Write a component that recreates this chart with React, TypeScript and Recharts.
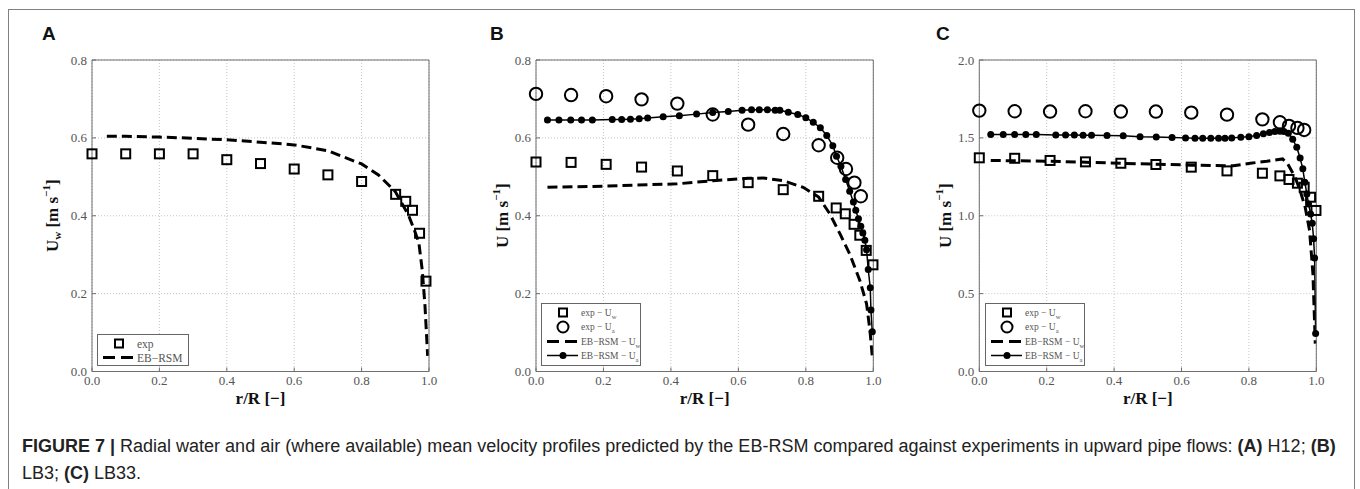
import React from 'react';
import { ComposedChart, Line, Scatter, XAxis, YAxis, CartesianGrid, Legend, Label } from 'recharts';

const R_TICKS = [0, 0.2, 0.4, 0.6, 0.8, 1.0];
const AB_U_TICKS = [0, 0.2, 0.4, 0.6, 0.8];
const C_U_TICKS = [0, 0.5, 1.0, 1.5, 2.0];

// (A) H12
const A_EXP_R = [0, 0.1, 0.2, 0.3, 0.4, 0.5, 0.6, 0.7, 0.8, 0.901, 0.931, 0.951, 0.972, 0.991];
const A_EXP_UW = [0.559, 0.559, 0.559, 0.559, 0.544, 0.534, 0.52, 0.505, 0.488, 0.455, 0.437, 0.414, 0.355, 0.232];
const A_RSM_R = [0.044, 0.1, 0.2, 0.3, 0.4, 0.5, 0.6, 0.7, 0.8, 0.85, 0.9, 0.94, 0.96, 0.97, 0.98, 0.988, 0.996];
const A_RSM_UW = [0.604, 0.604, 0.602, 0.599, 0.595, 0.589, 0.582, 0.567, 0.533, 0.505, 0.462, 0.4, 0.355, 0.33, 0.26, 0.17, 0.04];

// (B) LB3
const B_EXP_R = [0, 0.104, 0.208, 0.313, 0.419, 0.524, 0.629, 0.733, 0.838, 0.89, 0.917, 0.943, 0.96, 0.979, 0.999];
const B_EXP_UW = [0.538, 0.537, 0.532, 0.525, 0.515, 0.503, 0.485, 0.467, 0.45, 0.42, 0.405, 0.378, 0.35, 0.311, 0.274];
const B_EXP_UA_R = [0, 0.104, 0.208, 0.313, 0.419, 0.524, 0.629, 0.733, 0.838, 0.893, 0.919, 0.944, 0.963];
const B_EXP_UA = [0.713, 0.71, 0.707, 0.699, 0.688, 0.66, 0.634, 0.61, 0.581, 0.549, 0.52, 0.485, 0.45];
const B_RSM_UW_R = [0.034, 0.2, 0.419, 0.524, 0.629, 0.674, 0.733, 0.792, 0.838, 0.871, 0.901, 0.93, 0.96, 0.98, 0.99, 0.998];
const B_RSM_UW = [0.473, 0.476, 0.482, 0.49, 0.496, 0.497, 0.49, 0.473, 0.448, 0.405, 0.354, 0.302, 0.234, 0.174, 0.106, 0.029];
const B_RSM_UA_R = [
  0.034, 0.068, 0.103, 0.135, 0.167, 0.226, 0.254, 0.28, 0.306, 0.331, 0.377, 0.425, 0.476, 0.524, 0.57,
  0.611, 0.639, 0.662, 0.686, 0.709, 0.723, 0.748, 0.776, 0.8, 0.822, 0.843, 0.862, 0.88, 0.891, 0.904,
  0.918, 0.93, 0.941, 0.948, 0.956, 0.963, 0.969, 0.975, 0.98, 0.985, 0.991, 0.993, 0.997,
];
const B_RSM_UA = [
  0.646, 0.646, 0.646, 0.646, 0.646, 0.647, 0.647, 0.648, 0.649, 0.651, 0.654, 0.657, 0.661, 0.665, 0.668,
  0.671, 0.672, 0.672, 0.672, 0.671, 0.671, 0.666, 0.66, 0.652, 0.64, 0.626, 0.606, 0.58, 0.553, 0.527,
  0.493, 0.463, 0.435, 0.414, 0.392, 0.373, 0.356, 0.337, 0.313, 0.262, 0.215, 0.158, 0.102,
];

// (C) LB33
const C_EXP_R = [0, 0.105, 0.21, 0.315, 0.42, 0.524, 0.629, 0.735, 0.84, 0.892, 0.919, 0.944, 0.964, 0.983, 0.999];
const C_EXP_UW = [1.372, 1.369, 1.355, 1.346, 1.337, 1.329, 1.312, 1.288, 1.273, 1.256, 1.233, 1.209, 1.183, 1.119, 1.034];
const C_EXP_UA_R = [0, 0.105, 0.21, 0.315, 0.42, 0.524, 0.629, 0.735, 0.84, 0.892, 0.919, 0.944, 0.964];
const C_EXP_UA = [1.675, 1.671, 1.669, 1.671, 1.669, 1.669, 1.662, 1.649, 1.619, 1.6, 1.577, 1.564, 1.551];
const C_RSM_UW_R = [0.034, 0.21, 0.42, 0.629, 0.754, 0.804, 0.853, 0.9, 0.915, 0.937, 0.952, 0.967, 0.98, 0.99, 0.997];
const C_RSM_UW = [1.355, 1.35, 1.337, 1.325, 1.321, 1.337, 1.35, 1.365, 1.333, 1.248, 1.162, 1.055, 0.906, 0.628, 0.179];
const C_RSM_UA_R = [
  0.034, 0.071, 0.105, 0.138, 0.169, 0.227, 0.256, 0.282, 0.308, 0.333, 0.379, 0.427, 0.477, 0.525, 0.572,
  0.612, 0.64, 0.663, 0.687, 0.71, 0.729, 0.749, 0.776, 0.8, 0.823, 0.843, 0.861, 0.877, 0.892, 0.904,
  0.917, 0.93, 0.942, 0.952, 0.96, 0.966, 0.972, 0.977, 0.983, 0.988, 0.992, 0.995, 0.998,
];
const C_RSM_UA = [
  1.521, 1.521, 1.521, 1.521, 1.521, 1.519, 1.519, 1.519, 1.517, 1.517, 1.515, 1.513, 1.508, 1.506, 1.502,
  1.5, 1.498, 1.498, 1.498, 1.498, 1.498, 1.5, 1.504, 1.508, 1.515, 1.526, 1.534, 1.541, 1.543, 1.541,
  1.53, 1.491, 1.44, 1.371, 1.301, 1.215, 1.14, 1.076, 1.012, 0.952, 0.852, 0.728, 0.244,
];

const zip = (xs: number[], ys: number[]) => xs.map((x, i) => ({ x, y: ys[i] }));

const SERIF = '"Liberation Serif", "DejaVu Serif", serif';
const SANS = '"Liberation Sans", Arial, sans-serif';
const AXIS = '#6e6e6e';

const SquareShape = (props: any) => {
  const { cx, cy } = props;
  if (cx == null || cy == null) return null;
  return <rect x={cx - 4.5} y={cy - 4.5} width={9} height={9} fill="none" stroke="#000" strokeWidth={2} />;
};

const CircleShape = (props: any) => {
  const { cx, cy } = props;
  if (cx == null || cy == null) return null;
  return <circle cx={cx} cy={cy} r={6.2} fill="none" stroke="#000" strokeWidth={2} />;
};

type Item = { kind: 'square' | 'circle' | 'dash' | 'dotline'; label: string; sub?: string };

const LegendBox = ({ items, w, h, rows, fontSize }: { items: Item[]; w: number; h: number; rows: number[]; fontSize: number }) => (
  <svg width={w} height={h} style={{ display: 'block' }}>
    <rect x={0.5} y={0.5} width={w - 1} height={h - 1} fill="#fff" stroke="#666" strokeWidth={1} />
    {items.map((it, i) => {
      const cy = rows[i];
      return (
        <g key={i}>
          {it.kind === 'square' && <rect x={18} y={cy - 4} width={8} height={8} fill="none" stroke="#000" strokeWidth={2} />}
          {it.kind === 'circle' && <circle cx={22} cy={cy} r={5.5} fill="none" stroke="#000" strokeWidth={2} />}
          {it.kind === 'dash' && <line x1={6} y1={cy} x2={37} y2={cy} stroke="#000" strokeWidth={3} strokeDasharray="12 6" />}
          {it.kind === 'dotline' && (
            <g>
              <line x1={6} y1={cy} x2={37} y2={cy} stroke="#000" strokeWidth={1.5} />
              <circle cx={22} cy={cy} r={3.5} fill="#000" />
            </g>
          )}
          <text x={40} y={cy + fontSize * 0.35} fontFamily={SERIF} fontSize={fontSize} fill="#555">
            {it.label}
            {it.sub && (
              <tspan dy={3} fontSize={fontSize * 0.7}>
                {it.sub}
              </tspan>
            )}
          </text>
        </g>
      );
    })}
  </svg>
);

const YLabel = ({ viewBox, labelX, sub }: any) => {
  const cx = labelX;
  const cy = viewBox.y + viewBox.height / 2;
  return (
    <text
      x={cx}
      y={cy}
      transform={`rotate(-90 ${cx} ${cy})`}
      textAnchor="middle"
      dominantBaseline="central"
      fontFamily={SERIF}
      fontWeight="bold"
      fontSize={17}
      fill="#111"
    >
      U
      {sub && (
        <tspan dy={5} fontSize={11}>
          {sub}
        </tspan>
      )}
      <tspan dy={sub ? -5 : 0}> [m s</tspan>
      <tspan dy={-6} fontSize={11}>
        −1
      </tspan>
      <tspan dy={6}>]</tspan>
    </text>
  );
};

const XLabel = ({ viewBox, labelY }: any) => (
  <text
    x={viewBox.x + viewBox.width / 2}
    y={labelY}
    textAnchor="middle"
    fontFamily={SERIF}
    fontWeight="bold"
    fontSize={17}
    fill="#111"
  >
    r/R [−]
  </text>
);

type PanelProps = {
  left: number;
  width: number;
  plotLeft: number;
  plotRight: number;
  letter: string;
  letterX: number;
  yMax: number;
  yTicks: number[];
  yLabelX: number;
  ySub?: string;
  squares: { x: number; y: number }[];
  circles?: { x: number; y: number }[];
  dashed: { x: number; y: number }[];
  dotted?: { x: number; y: number }[];
  legendItems: Item[];
  legend: { x: number; y: number; w: number; h: number; rows: number[]; fontSize: number };
};

const H = 420;
const TOP = 60;
const BOTTOM = 371.5;
const YAXIS_W = 40;
const XAXIS_H = 30;

const Panel = (p: PanelProps) => {
  const fmt = (v: number) => v.toFixed(1);
  const localLeft = p.plotLeft - p.left;
  const localRight = p.left + p.width - p.plotRight;
  return (
    <div style={{ position: 'absolute', left: p.left, top: 0, width: p.width, height: H }}>
      <div
        style={{
          position: 'absolute',
          left: p.letterX - p.left,
          top: 24,
          fontFamily: SANS,
          fontWeight: 'bold',
          fontSize: 19,
          lineHeight: '20px',
          color: '#111',
        }}
      >
        {p.letter}
      </div>
      <ComposedChart
        width={p.width}
        height={H}
        margin={{ top: TOP - 2, left: localLeft - YAXIS_W, right: localRight - 2, bottom: H - BOTTOM - XAXIS_H }}
      >
        <CartesianGrid stroke="#c4c4c4" strokeDasharray="1 2" />
        <XAxis
          type="number"
          dataKey="x"
          domain={[0, 1]}
          ticks={R_TICKS}
          tickFormatter={fmt}
          height={XAXIS_H}
          stroke={AXIS}
          tickSize={-4}
          tickMargin={8}
          tick={{ fontFamily: SERIF, fontSize: 13, fill: '#555' }}
        >
          <Label content={(props: any) => <XLabel {...props} labelY={BOTTOM + 32} />} />
        </XAxis>
        <XAxis xAxisId="top" orientation="top" type="number" domain={[0, 1]} ticks={R_TICKS} height={2} stroke={AXIS} tickSize={-4} tick={false} />
        <YAxis
          type="number"
          dataKey="y"
          domain={[0, p.yMax]}
          ticks={p.yTicks}
          tickFormatter={fmt}
          width={YAXIS_W}
          stroke={AXIS}
          tickSize={-4}
          tickMargin={9}
          tick={{ fontFamily: SERIF, fontSize: 13, fill: '#555' }}
        >
          <Label content={(props: any) => <YLabel {...props} labelX={p.yLabelX - p.left} sub={p.ySub} />} />
        </YAxis>
        <YAxis yAxisId="right" orientation="right" type="number" domain={[0, p.yMax]} ticks={p.yTicks} width={2} stroke={AXIS} tickSize={-4} tick={false} />
        <Line data={p.dashed} dataKey="y" type="linear" stroke="#000" strokeWidth={3} strokeDasharray="10 5" dot={false} isAnimationActive={false} />
        {p.dotted && (
          <Line
            data={p.dotted}
            dataKey="y"
            type="linear"
            stroke="#000"
            strokeWidth={1.5}
            dot={{ r: 3.5, fill: '#000', stroke: '#000', strokeWidth: 0 }}
            isAnimationActive={false}
          />
        )}
        <Scatter data={p.squares} dataKey="y" shape={<SquareShape />} isAnimationActive={false} />
        {p.circles && <Scatter data={p.circles} dataKey="y" shape={<CircleShape />} isAnimationActive={false} />}
        <Legend
          layout="vertical"
          align="center"
          verticalAlign="middle"
          wrapperStyle={{ left: p.legend.x - p.left, top: p.legend.y, width: p.legend.w, height: p.legend.h }}
          content={() => (
            <LegendBox items={p.legendItems} w={p.legend.w} h={p.legend.h} rows={p.legend.rows} fontSize={p.legend.fontSize} />
          )}
        />
      </ComposedChart>
    </div>
  );
};

const ITEMS_A: Item[] = [
  { kind: 'square', label: 'exp' },
  { kind: 'dash', label: 'EB−RSM' },
];
const ITEMS_BC: Item[] = [
  { kind: 'square', label: 'exp − U', sub: 'w' },
  { kind: 'circle', label: 'exp − U', sub: 'a' },
  { kind: 'dash', label: 'EB−RSM − U', sub: 'w' },
  { kind: 'dotline', label: 'EB−RSM − U', sub: 'a' },
];

export default function App() {
  return (
    <div style={{ position: 'absolute', left: 0, top: 0, width: 1360, height: 489, background: '#fff', overflow: 'hidden' }}>
      <div
        style={{
          position: 'absolute',
          left: 8,
          top: 9,
          width: 1347,
          height: 520,
          border: '1.5px solid #808080',
          boxSizing: 'border-box',
        }}
      />
      <Panel
        left={0}
        width={450}
        plotLeft={92}
        plotRight={429}
        letter="A"
        letterX={42}
        yMax={0.8}
        yTicks={AB_U_TICKS}
        yLabelX={52}
        ySub="w"
        squares={zip(A_EXP_R, A_EXP_UW)}
        dashed={zip(A_RSM_R, A_RSM_UW)}
        legendItems={ITEMS_A}
        legend={{ x: 97, y: 334, w: 92, h: 32, rows: [9.5, 23.5], fontSize: 11.5 }}
      />
      <Panel
        left={450}
        width={450}
        plotLeft={536}
        plotRight={873.3}
        letter="B"
        letterX={490}
        yMax={0.8}
        yTicks={AB_U_TICKS}
        yLabelX={502}
        squares={zip(B_EXP_R, B_EXP_UW)}
        circles={zip(B_EXP_UA_R, B_EXP_UA)}
        dashed={zip(B_RSM_UW_R, B_RSM_UW)}
        dotted={zip(B_RSM_UA_R, B_RSM_UA)}
        legendItems={ITEMS_BC}
        legend={{ x: 541, y: 302.5, w: 100, h: 63, rows: [9.5, 24, 38.5, 52.5], fontSize: 9.5 }}
      />
      <Panel
        left={900}
        width={460}
        plotLeft={979.3}
        plotRight={1316.3}
        letter="C"
        letterX={936}
        yMax={2.0}
        yTicks={C_U_TICKS}
        yLabelX={945}
        squares={zip(C_EXP_R, C_EXP_UW)}
        circles={zip(C_EXP_UA_R, C_EXP_UA)}
        dashed={zip(C_RSM_UW_R, C_RSM_UW)}
        dotted={zip(C_RSM_UA_R, C_RSM_UA)}
        legendItems={ITEMS_BC}
        legend={{ x: 984.5, y: 302.5, w: 100, h: 63, rows: [9.5, 24, 38.5, 52.5], fontSize: 9.5 }}
      />
      <div
        style={{
          position: 'absolute',
          left: 22,
          top: 433,
          fontFamily: SANS,
          fontSize: 18,
          lineHeight: '27px',
          color: '#222',
          whiteSpace: 'nowrap',
        }}
      >
        <b>FIGURE 7 |</b> Radial water and air (where available) mean velocity profiles predicted by the EB-RSM compared against
        experiments in upward pipe flows: <b>(A)</b> H12; <b>(B)</b>
        <br />
        LB3; <b>(C)</b> LB33.
      </div>
    </div>
  );
}
